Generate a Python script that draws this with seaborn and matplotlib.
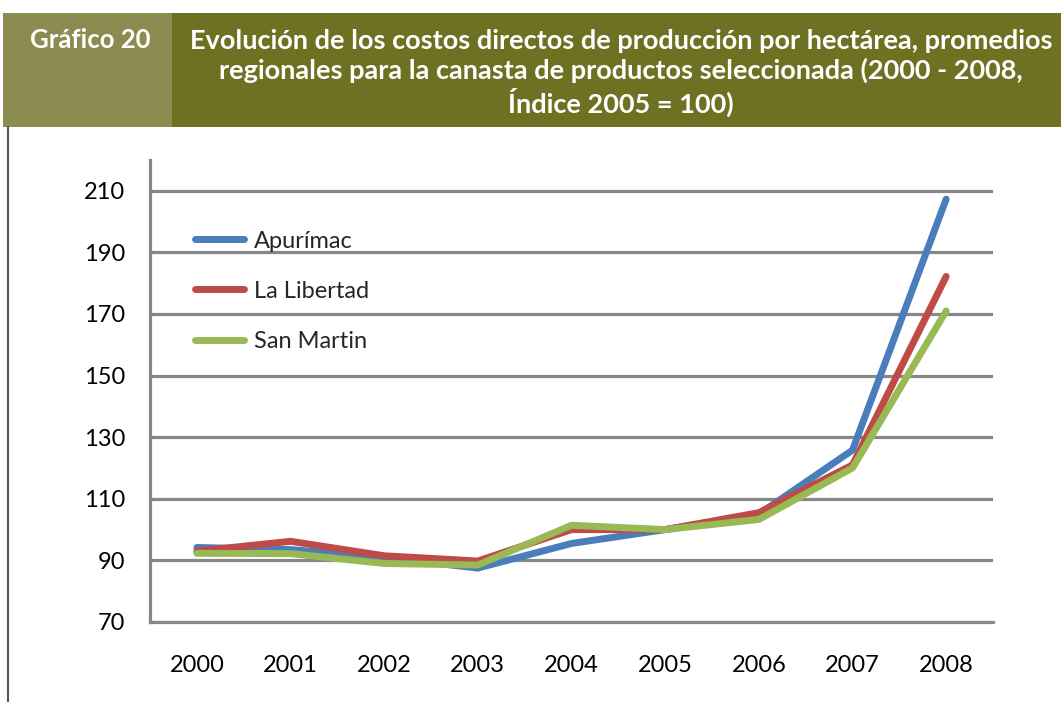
import matplotlib
matplotlib.use("Agg")
import matplotlib.pyplot as plt
import seaborn as sns
import pandas as pd
from matplotlib.patches import Rectangle
from matplotlib.lines import Line2D

years = ["2000", "2001", "2002", "2003", "2004", "2005", "2006", "2007", "2008"]
apurimac = [94.2, 93.5, 91.0, 87.5, 95.5, 100.0, 105.0, 125.8, 207.3]
la_libertad = [93.0, 96.2, 91.5, 89.8, 100.0, 100.0, 105.5, 121.0, 182.2]
san_martin = [92.3, 92.2, 89.0, 88.5, 101.4, 100.0, 103.3, 120.0, 171.0]
series_names = ["Apurímac", "La Libertad", "San Martin"]
colors = ["#4A7EBB", "#BE4B48", "#98B954"]
yticks = [70, 90, 110, 130, 150, 170, 190, 210]

df = pd.DataFrame({
    "year": years * 3,
    "x": list(range(len(years))) * 3,
    "value": apurimac + la_libertad + san_martin,
    "region": [series_names[0]] * 9 + [series_names[1]] * 9 + [series_names[2]] * 9,
})

sns.set_style("white")
plt.rcParams["font.family"] = ["Lato", "DejaVu Sans"]

W, H = 1061, 702
fig = plt.figure(figsize=(W / 100, H / 100), dpi=100)
fig.patch.set_facecolor("white")

def fx(px):
    return px / W

def fy(py):
    return 1 - py / H

# header
fig.patches.append(Rectangle((fx(3), fy(127)), fx(172) - fx(3), fy(13) - fy(127),
                             transform=fig.transFigure, facecolor="#8C8C50", edgecolor="none"))
fig.patches.append(Rectangle((fx(172), fy(127)), fx(1061) - fx(172), fy(13) - fy(127),
                             transform=fig.transFigure, facecolor="#6E7022", edgecolor="none"))
fig.text(fx(90), fy(40), "Gráfico 20", color="white", fontweight="bold", fontsize=18.5,
         ha="center", va="center")
fig.text(fx(621), fy(73),
         "Evolución de los costos directos de producción por hectárea, promedios\n"
         "regionales para la canasta de productos seleccionada (2000 - 2008,\n"
         "Índice 2005 = 100)",
         color="white", fontweight="bold", fontsize=19.5, ha="center", va="center",
         linespacing=1.2)
fig.lines.append(Line2D([fx(8), fx(8)], [fy(127), 0], transform=fig.transFigure,
                        color="#555555", lw=1.5))

ax = fig.add_axes([fx(150), fy(622), fx(993) - fx(150), fy(160) - fy(622)])
sns.lineplot(data=df, x="x", y="value", hue="region", palette=colors, linewidth=5,
             ax=ax, legend=False, sort=False)

grid_c = "#878787"
ax.set_xlim(-0.5, 8.5)
ax.set_ylim(70, 220)
ax.set_yticks(yticks)
ax.set_yticklabels([str(v) for v in yticks])
ax.yaxis.grid(True, color=grid_c, linewidth=2.3)
ax.xaxis.grid(False)
ax.set_axisbelow(True)
ax.set_xticks(range(len(years)))
ax.set_xticklabels(years)
ax.set_xticks([i - 0.5 for i in range(len(years) + 1)], minor=True)
ax.tick_params(axis="x", which="major", length=0, pad=24, labelsize=17, labelcolor="black")
ax.tick_params(axis="x", which="minor", length=6, width=2.3, color=grid_c, direction="out")
ax.tick_params(axis="y", which="major", length=6, width=2.3, color=grid_c, direction="out",
               pad=12, labelsize=17, labelcolor="black")
ax.set_xlabel("")
ax.set_ylabel("")
for s in ["top", "right"]:
    ax.spines[s].set_visible(False)
for s in ["left", "bottom"]:
    ax.spines[s].set_color(grid_c)
    ax.spines[s].set_linewidth(2.3)
ax.set_facecolor("white")

handles = [Line2D([0], [0], color=c, lw=5) for c in colors]
ax.legend(handles, series_names, loc="upper left", bbox_to_anchor=(0.053, 0.847),
          frameon=False, fontsize=17, handlelength=2.1, handletextpad=0.42,
          labelspacing=1.23, borderpad=0, borderaxespad=0)

fig.savefig("out.png", dpi=100, facecolor="white")
